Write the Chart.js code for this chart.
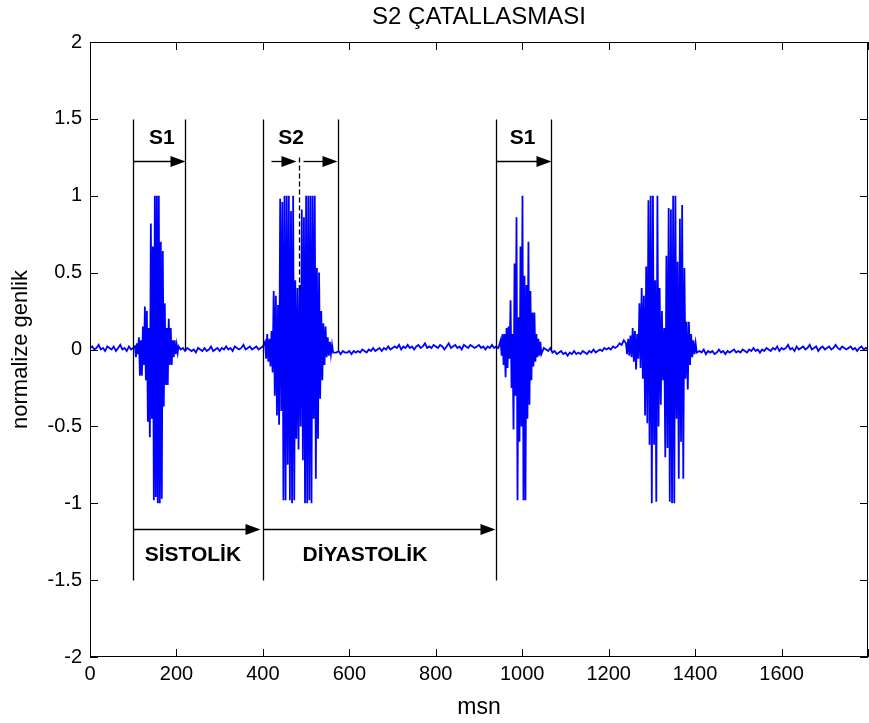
<!DOCTYPE html>
<html><head><meta charset="utf-8">
<script src="https://cdn.jsdelivr.net/npm/chart.js@4/dist/chart.umd.min.js"></script>
<style>html,body{margin:0;padding:0;background:#fff}</style>
</head><body>
<canvas id="c" width="869" height="723"></canvas>
<script>
// ---- signal data (normalize genlik) ----
// baseline before first S1 (t = 0..100 msn, every 5 msn)
const baseA = [0.01,0.02,0.00,0.01,0.03,0.00,0.01,-0.01,0.02,0.01,0.00,0.02,-0.01,0.01,0.03,0.00,0.01,-0.01,0.02,0.00,0.01];
// first S1 burst (from 104 msn, every 2.3 msn)
const burstS1a = [0.02,-0.05,0.04,-0.03,0.08,-0.17,0.06,-0.17,0.15,-0.10,0.28,-0.20,0.25,-0.47,0.14,-0.57,0.82,-0.45,0.67,-0.98,1.0,-0.96,1.0,-1.0,1.0,-1.0,0.70,-0.97,0.64,-0.37,0.30,-0.23,0.14,-0.23,0.20,-0.10,0.14,-0.10,0.06,-0.05,0.06,-0.03,0.03,-0.02];
// systole baseline (205..400 msn, every 5 msn)
const baseB = [0.02,0.00,0.01,-0.01,0.01,0.00,-0.01,0.00,-0.02,0.01,0.00,-0.01,0.01,-0.01,0.00,0.02,-0.01,0.00,0.01,-0.01,0.01,0.00,0.02,0.00,0.01,-0.01,0.02,0.01,0.00,0.01,0.03,0.00,0.01,0.02,0.00,0.01,0.02,0.00,0.01,0.02];
// split S2 burst (from 405 msn, every 2.5 msn)
const burstS2a = [0.05,-0.06,0.10,-0.08,0.07,-0.11,0.12,-0.15,0.38,-0.30,0.35,-0.43,0.29,-0.49,0.98,-0.40,0.96,-0.98,1.0,-0.98,1.0,-0.75,1.0,-0.98,0.90,-1.0,1.0,-0.98,0.45,-0.58,0.40,-0.65,0.42,-0.50,0.91,-0.72,0.86,-1.0,1.0,-1.0,1.0,-0.98,1.0,-1.0,1.0,-0.45,1.0,-0.84,0.53,-0.58,0.50,-0.32,0.25,-0.20,0.17,-0.10,0.15,-0.05,0.08,-0.04,0.05,-0.03,0.03,-0.02];
// diastole baseline (570..945 msn, every 5 msn)
const baseC = [-0.02,-0.01,-0.03,-0.01,-0.02,-0.02,-0.01,-0.03,-0.01,-0.02,-0.01,
  -0.02,0.00,-0.01,-0.02,0.00,-0.01,0.01,-0.01,0.00,0.01,-0.01,0.01,0.00,0.02,0.00,0.01,
  0.02,0.01,0.03,0.00,0.02,0.01,0.03,0.01,0.02,0.00,0.02,0.03,0.01,0.02,0.04,0.01,0.02,0.01,0.03,0.02,
  0.01,0.03,0.02,0.00,0.02,0.04,0.01,0.02,0.03,0.01,0.02,0.00,0.03,0.02,0.01,0.03,0.02,0.01,0.02,0.03,
  0.01,0.02,0.00,0.02,0.01,0.03,0.01,0.02,0.01];
// second S1 burst (from 950 msn, every 2.3 msn)
const burstS1b = [0.06,-0.04,0.10,-0.10,0.10,-0.18,0.14,-0.12,0.15,-0.06,0.32,-0.25,0.10,-0.52,0.56,-0.30,0.86,-0.98,0.21,-0.60,0.67,-0.50,1.0,-0.98,0.48,-0.98,0.42,-0.45,0.70,-0.36,0.38,-0.20,0.24,-0.11,0.24,-0.08,0.10,-0.05,0.07,-0.04,0.05,-0.03];
// baseline (1050..1235 msn, every 5 msn)
const baseD = [0.01,0.00,-0.01,0.01,-0.02,-0.01,-0.03,-0.02,-0.01,-0.03,-0.02,-0.04,-0.02,-0.03,-0.01,-0.03,-0.02,-0.03,-0.01,-0.02,-0.03,-0.01,-0.02,0.00,-0.02,-0.01,0.00,-0.01,0.01,0.00,0.01,0.00,0.02,0.01,0.02,0.04,0.03,0.06];
// second split S2 burst (from 1240 msn, every 2.6 msn)
const burstS2b = [0.04,-0.03,0.07,-0.04,0.09,-0.05,0.14,-0.08,0.12,-0.13,0.10,-0.06,0.30,-0.12,0.40,-0.19,0.35,-0.43,0.54,-0.48,0.97,-0.62,1.0,-1.0,1.0,-0.62,0.45,-0.99,1.0,-0.50,0.40,-0.36,0.25,-0.20,0.14,-0.70,0.61,-0.64,0.92,-0.99,0.91,-1.0,1.0,-1.0,1.0,-0.45,0.57,-0.84,0.85,-0.60,0.94,-0.84,0.53,-0.19,0.18,-0.26,0.18,-0.10,0.10,-0.05,0.06,-0.03,0.04,-0.02];
// final baseline (1410..1800 msn, every 5 msn)
const baseE = [-0.01,-0.02,0.00,-0.03,-0.01,-0.02,-0.01,-0.03,-0.02,0.00,-0.02,-0.01,-0.03,-0.01,-0.02,-0.01,0.00,-0.02,-0.01,-0.02,
  0.00,-0.01,-0.02,0.00,-0.01,0.01,-0.01,0.00,-0.02,0.00,-0.01,0.01,0.00,-0.01,0.01,0.00,0.02,-0.01,0.01,0.00,
  0.01,0.03,0.00,0.01,-0.01,0.02,0.00,0.01,0.02,0.00,0.01,0.03,0.00,0.01,0.02,-0.01,0.01,0.02,0.00,0.01,
  0.02,0.00,0.01,0.03,0.01,0.00,0.02,0.01,0.00,0.01,0.02,0.00,0.01,-0.01,0.01,0.02,0.00,0.01,0.00];

const segValues = [baseA, burstS1a, baseB, burstS2a, baseC, burstS1b, baseD, burstS2b, baseE];
const segStart  = [0, 104, 205, 405, 570, 950, 1050, 1240, 1410];   // msn
const segStep   = [5, 2.3, 5, 2.5, 5, 2.3, 5, 2.6, 5];                // msn per sample

// ---- axes ----
const xTicks = [0,200,400,600,800,1000,1200,1400,1600,1800];
const yTicks = [-2,-1.5,-1,-0.5,0,0.5,1,1.5,2];

// ---- annotations (msn / genlik) ----
const fullLines  = [100, 400, 940];        // vertical markers from 1.5 to -1.5
const shortLines = [220, 573, 1067];       // vertical markers from 1.5 to 0
const splitLine  = [484, 1.25, 0.37];      // dashed S2 split marker
const topArrows  = [[100,220],[418,476],[492,572],[940,1066]];   // at y 1.225
const bottomArrows = [[100,394],[400,937]];                      // at y -1.165
const topLabels  = [["S1",166],["S2",465],["S1",1001]];
const bottomLabels = [["SİSTOLİK",238],["DİYASTOLİK",636]];

const points = [];
segValues.forEach((vals, s) => vals.forEach((v, i) => points.push({x: segStart[s] + i*segStep[s], y: v})));

const FONT = "'Liberation Sans', Arial, sans-serif";

const annot = {
  id: 'annot',
  afterDatasetsDraw(chart) {
    const {ctx, chartArea: a, scales: {x, y}} = chart;
    const X = v => Math.round(x.getPixelForValue(v)) + 0.5;
    const Y = v => Math.round(y.getPixelForValue(v)) + 0.5;
    const line = (x1,y1,x2,y2) => { ctx.beginPath(); ctx.moveTo(x1,y1); ctx.lineTo(x2,y2); ctx.stroke(); };
    ctx.save();
    ctx.strokeStyle = '#000'; ctx.fillStyle = '#000'; ctx.lineWidth = 1;
    // box + inward ticks
    ctx.strokeRect(Math.round(a.left)+0.5, Math.round(a.top)+0.5, Math.round(a.right-a.left)-1, Math.round(a.bottom-a.top)-1);
    xTicks.forEach(v => { const px = X(v); line(px, a.bottom, px, a.bottom-8); line(px, a.top, px, a.top+8); });
    yTicks.forEach(v => { const py = Y(v); line(a.left, py, a.left+8, py); line(a.right, py, a.right-8, py); });
    // markers
    ctx.lineWidth = 1.3;
    fullLines.forEach(v => line(X(v), Y(1.5), X(v), Y(-1.5)));
    shortLines.forEach(v => line(X(v), Y(1.5), X(v), Y(0)));
    ctx.setLineDash([5,3]);
    line(X(splitLine[0]), Y(splitLine[1]), X(splitLine[0]), Y(splitLine[2]));
    ctx.setLineDash([]);
    const arrow = (t1, t2, v) => {
      const x1 = X(t1), x2 = X(t2), py = Y(v);
      line(x1, py, x2 - 10, py);
      ctx.beginPath(); ctx.moveTo(x2, py); ctx.lineTo(x2-15, py-5.5); ctx.lineTo(x2-15, py+5.5); ctx.closePath(); ctx.fill();
    };
    topArrows.forEach(p => arrow(p[0], p[1], 1.225));
    bottomArrows.forEach(p => arrow(p[0], p[1], -1.165));
    ctx.font = "bold 21px " + FONT; ctx.textAlign = 'center'; ctx.textBaseline = 'middle';
    topLabels.forEach(l => ctx.fillText(l[0], x.getPixelForValue(l[1]), y.getPixelForValue(1.375)));
    bottomLabels.forEach(l => ctx.fillText(l[0], x.getPixelForValue(l[1]), y.getPixelForValue(-1.336)));
    // title
    ctx.font = "24px " + FONT; ctx.textBaseline = 'middle';
    ctx.fillText("S2 ÇATALLASMASI", (a.left + a.right)/2, 17);
    ctx.restore();
  }
};

new Chart(document.getElementById('c'), {
  type: 'line',
  data: { datasets: [{ data: points, borderColor: '#0000ff', borderWidth: 1.8, pointRadius: 0, tension: 0, fill: false }] },
  options: {
    responsive: false, animation: false, devicePixelRatio: 1,
    layout: { padding: { top: 42, right: 1, left: 0, bottom: 0 } },
    plugins: { legend: { display: false }, tooltip: { enabled: false }, title: { display: false } },
    scales: {
      x: { type: 'linear', min: 0, max: 1800,
        afterBuildTicks: s => { s.ticks = xTicks.map(v => ({value: v})); },
        ticks: { callback: v => v === 1800 ? '' : String(v), color: '#000', font: {family: FONT, size: 20}, padding: 5, maxRotation: 0, autoSkip: false },
        grid: { display: false, drawTicks: false }, border: { display: false },
        title: { display: true, text: 'msn', color: '#000', font: {family: FONT, size: 23}, padding: {top: 2, bottom: 2} },
        afterFit: s => { s.height = 66; s.paddingLeft = 0; s.paddingRight = 0; } },
      y: { min: -2, max: 2,
        afterBuildTicks: s => { s.ticks = yTicks.map(v => ({value: v})); },
        ticks: { callback: v => String(v), color: '#000', font: {family: FONT, size: 20}, padding: 8 },
        grid: { display: false, drawTicks: false }, border: { display: false },
        title: { display: true, text: 'normalize genlik', color: '#000', font: {family: FONT, size: 22}, padding: {top: 8, bottom: 8} },
        afterFit: s => { s.width = 90; s.paddingTop = 0; s.paddingBottom = 0; } }
    }
  },
  plugins: [annot]
});
</script>
</body></html>
